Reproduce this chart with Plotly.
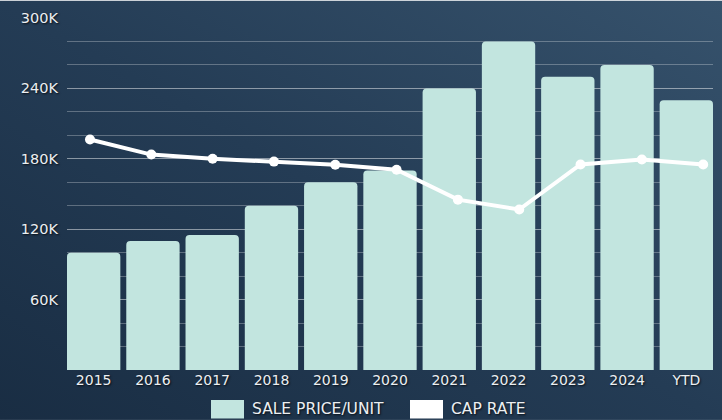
import base64
import plotly.graph_objects as go

categories = ["2015", "2016", "2017", "2018", "2019", "2020", "2021", "2022", "2023", "2024", "YTD"]
sale_price_per_unit = [100000, 110000, 115000, 140000, 160000, 170000, 240000, 280000, 250000, 260000, 230000]
cap_rate = [6.55, 6.12, 6.00, 5.92, 5.83, 5.69, 4.84, 4.56, 5.84, 5.98, 5.84]
y_tick_vals = [60000, 120000, 180000, 240000, 300000]
y_tick_text = ["60K", "120K", "180K", "240K", "300K"]
legend_labels = ["SALE PRICE/UNIT", "CAP RATE"]

BAR_COLOR = "#c2e5df"
LINE_COLOR = "#ffffff"
TEXT_COLOR = "#eceff2"
GRID_COLOR = "rgba(255,255,255,0.28)"
FONT = "DejaVu Sans"
SHADOW = "1px 1px 2px rgba(0,0,0,0.75)"

svg = (
    '<svg xmlns="http://www.w3.org/2000/svg" width="722" height="420" preserveAspectRatio="none">'
    '<defs><linearGradient id="g" x1="0" y1="1" x2="1" y2="0">'
    '<stop offset="0" stop-color="#192d43"/>'
    '<stop offset="0.5" stop-color="#243c55"/>'
    '<stop offset="1" stop-color="#36526c"/>'
    '</linearGradient></defs>'
    '<rect width="722" height="420" fill="url(#g)"/></svg>'
)
bg_uri = "data:image/svg+xml;base64," + base64.b64encode(svg.encode()).decode()

fig = go.Figure()
fig.add_trace(go.Bar(
    x=categories, y=sale_price_per_unit, name=legend_labels[0],
    marker=dict(color=BAR_COLOR, line=dict(width=0)),
    showlegend=False,
))
fig.add_trace(go.Scatter(
    x=categories, y=cap_rate, name=legend_labels[1], xaxis="x2", yaxis="y2",
    mode="lines+markers",
    line=dict(color=LINE_COLOR, width=4),
    marker=dict(color=LINE_COLOR, size=10),
    showlegend=False,
))

W, H = 722, 420
ml, mr, mt, mb = 67, 9, 17.5, 50

fig.update_layout(
    width=W, height=H,
    margin=dict(l=ml, r=mr, t=mt, b=mb),
    paper_bgcolor="rgba(0,0,0,0)",
    plot_bgcolor="rgba(0,0,0,0)",
    bargap=0.1,
    barcornerradius=4,
    font=dict(family=FONT, color=TEXT_COLOR, size=14, shadow=SHADOW),
    images=[dict(source=bg_uri, xref="paper", yref="paper",
                 x=-ml / (W - ml - mr), y=1 + mt / (H - mt - mb),
                 sizex=W / (W - ml - mr), sizey=H / (H - mt - mb),
                 xanchor="left", yanchor="top", sizing="stretch", layer="below")],
    xaxis=dict(range=[-0.45, len(categories) - 0.55],
               showgrid=False, showline=False, zeroline=False, ticks="",
               tickfont=dict(size=14, family=FONT, color=TEXT_COLOR, shadow=SHADOW)),
    xaxis2=dict(range=[-0.375, len(categories) - 0.84], overlaying="x", visible=False,
                type="category"),
    yaxis=dict(range=[0, 300000], tickvals=y_tick_vals, ticktext=y_tick_text,
               showgrid=True, gridcolor=GRID_COLOR, gridwidth=1,
               zeroline=False, showline=False, ticks="",
               ticklabelstandoff=8,
               minor=dict(dtick=20000, showgrid=True, gridcolor=GRID_COLOR, gridwidth=1),
               tickfont=dict(size=14.5, family=FONT, color=TEXT_COLOR, shadow=SHADOW)),
    yaxis2=dict(range=[0, 10], overlaying="y", side="right", visible=False),
    hovermode=False,
)

# Manual legend (large swatches)
def px_to_paper_x(px):
    return (px - ml) / (W - ml - mr)

def px_to_paper_y(py):
    return (H - mb - py) / (H - mt - mb)

swatches = [(211, 244, BAR_COLOR, 250, legend_labels[0]), (410, 443, LINE_COLOR, 449, legend_labels[1])]
for x0, x1, col, tx, label in swatches:
    fig.add_shape(type="rect", xref="paper", yref="paper",
                  x0=px_to_paper_x(x0), x1=px_to_paper_x(x1),
                  y0=px_to_paper_y(418.5), y1=px_to_paper_y(400),
                  fillcolor=col, line=dict(width=0), layer="above")
    fig.add_annotation(text=label, xref="paper", yref="paper",
                       x=px_to_paper_x(tx), y=px_to_paper_y(409), xanchor="left", yanchor="middle",
                       showarrow=False,
                       font=dict(size=15.5, family=FONT, color=TEXT_COLOR, shadow=SHADOW))

fig.write_html(
    "out.html",
    config={"displayModeBar": False},
    post_script="document.body.style.margin='0';document.body.style.padding='0';"
                "document.documentElement.style.overflow='hidden';",
)
